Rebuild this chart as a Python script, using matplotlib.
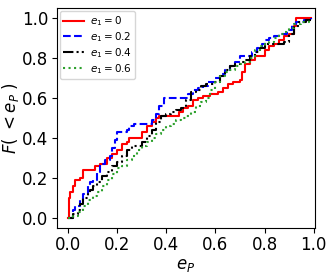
import matplotlib
matplotlib.use('Agg')
import matplotlib.pyplot as plt

# cumulative distributions (step curves)
x_e0 = [0.0, 0.005, 0.01, 0.02, 0.03, 0.05, 0.06, 0.10, 0.11, 0.13, 0.16, 0.18, 0.20, 0.22, 0.24, 0.25,
        0.28, 0.30, 0.32, 0.34, 0.36, 0.37, 0.42, 0.45, 0.47, 0.49, 0.51, 0.53, 0.55, 0.58, 0.61, 0.63,
        0.65, 0.67, 0.70, 0.71, 0.72, 0.74, 0.76, 0.79, 0.80, 0.82, 0.84, 0.86, 0.88, 0.90, 0.92, 0.93, 0.99]
y_e0 = [0.0, 0.10, 0.13, 0.16, 0.19, 0.20, 0.24, 0.24, 0.26, 0.27, 0.30, 0.32, 0.34, 0.37, 0.38, 0.40,
        0.40, 0.43, 0.46, 0.48, 0.50, 0.51, 0.51, 0.53, 0.55, 0.56, 0.59, 0.60, 0.61, 0.62, 0.63, 0.65,
        0.67, 0.68, 0.69, 0.73, 0.77, 0.79, 0.81, 0.81, 0.84, 0.86, 0.87, 0.89, 0.91, 0.92, 0.96, 1.0, 1.0]

x_e02 = [0.0, 0.02, 0.03, 0.05, 0.06, 0.08, 0.09, 0.10, 0.12, 0.13, 0.15, 0.17, 0.18, 0.19, 0.20, 0.24,
         0.25, 0.27, 0.33, 0.34, 0.36, 0.37, 0.39, 0.47, 0.49, 0.51, 0.53, 0.55, 0.57, 0.60, 0.62, 0.64,
         0.66, 0.68, 0.70, 0.75, 0.77, 0.79, 0.80, 0.82, 0.84, 0.86, 0.89, 0.91, 0.93, 0.96, 0.99]
y_e02 = [0.0, 0.04, 0.06, 0.09, 0.12, 0.16, 0.18, 0.19, 0.23, 0.27, 0.29, 0.31, 0.35, 0.39, 0.43, 0.44,
         0.46, 0.47, 0.47, 0.49, 0.52, 0.56, 0.60, 0.60, 0.62, 0.64, 0.65, 0.66, 0.68, 0.70, 0.72, 0.74,
         0.76, 0.78, 0.81, 0.83, 0.85, 0.87, 0.89, 0.90, 0.91, 0.92, 0.94, 0.97, 0.98, 0.99, 1.0]

x_e04 = [0.0, 0.02, 0.04, 0.05, 0.06, 0.08, 0.09, 0.10, 0.12, 0.14, 0.16, 0.18, 0.20, 0.22, 0.24, 0.26,
         0.30, 0.32, 0.34, 0.36, 0.38, 0.40, 0.42, 0.44, 0.46, 0.48, 0.50, 0.52, 0.54, 0.56, 0.60, 0.62,
         0.64, 0.66, 0.68, 0.70, 0.72, 0.74, 0.76, 0.78, 0.80, 0.88, 0.90, 0.92, 0.94, 0.97, 0.99]
y_e04 = [0.0, 0.02, 0.04, 0.07, 0.10, 0.12, 0.14, 0.16, 0.18, 0.21, 0.23, 0.26, 0.28, 0.31, 0.34, 0.36,
         0.38, 0.41, 0.44, 0.48, 0.51, 0.52, 0.53, 0.54, 0.55, 0.59, 0.63, 0.64, 0.66, 0.67, 0.68, 0.71,
         0.74, 0.76, 0.77, 0.78, 0.79, 0.81, 0.83, 0.85, 0.87, 0.88, 0.92, 0.96, 0.98, 0.99, 0.99]

x_e06 = [0.0, 0.02, 0.04, 0.06, 0.08, 0.10, 0.12, 0.14, 0.16, 0.18, 0.20, 0.22, 0.24, 0.26, 0.28, 0.30,
         0.32, 0.34, 0.36, 0.38, 0.40, 0.42, 0.44, 0.46, 0.48, 0.50, 0.52, 0.54, 0.56, 0.58, 0.60, 0.62,
         0.64, 0.66, 0.68, 0.70, 0.72, 0.74, 0.76, 0.78, 0.80, 0.82, 0.84, 0.86, 0.88, 0.90, 0.92, 0.95, 0.98]
y_e06 = [0.0, 0.01, 0.03, 0.06, 0.09, 0.11, 0.13, 0.16, 0.19, 0.22, 0.25, 0.26, 0.29, 0.31, 0.34, 0.36,
         0.38, 0.40, 0.42, 0.44, 0.46, 0.47, 0.49, 0.50, 0.51, 0.53, 0.56, 0.58, 0.60, 0.64, 0.68, 0.71,
         0.73, 0.74, 0.76, 0.77, 0.78, 0.80, 0.84, 0.86, 0.87, 0.88, 0.90, 0.92, 0.93, 0.95, 0.97, 0.98, 0.99]

fig = plt.figure(figsize=(3.35, 2.74), dpi=100)
ax = fig.add_axes([0.170, 0.168, 0.770, 0.803])

ax.plot(x_e0, y_e0, color='red', ls='-', lw=1.5, drawstyle='steps-post', label=r'$e_1=0$')
ax.plot(x_e02, y_e02, color='blue', ls='--', lw=1.5, drawstyle='steps-post', label=r'$e_1=0.2$')
ax.plot(x_e04, y_e04, color='black', ls=(0, (5, 1.5, 1, 1.5, 1, 1.5)), lw=1.5, drawstyle='steps-post',
        label=r'$e_1=0.4$')
ax.plot(x_e06, y_e06, color='tab:green', ls=':', lw=1.5, drawstyle='steps-post', label=r'$e_1=0.6$')

ax.set_xlim(-0.045, 1.005)
ax.set_ylim(-0.05, 1.05)
ax.set_xticks([0.0, 0.2, 0.4, 0.6, 0.8, 1.0])
ax.set_yticks([0.0, 0.2, 0.4, 0.6, 0.8, 1.0])
ax.tick_params(labelsize=12, length=3.5, pad=2.5)
ax.set_xlabel(r'$e_P$', fontsize=12, labelpad=1)
ax.set_ylabel(r'$F(\ <e_P\ )$', fontsize=12, labelpad=1)
ax.legend(loc='upper left', fontsize=7.5, handlelength=2.0, borderaxespad=0.3,
          labelspacing=0.2, borderpad=0.3, handletextpad=0.6)

fig.savefig('out.png', dpi=100)
